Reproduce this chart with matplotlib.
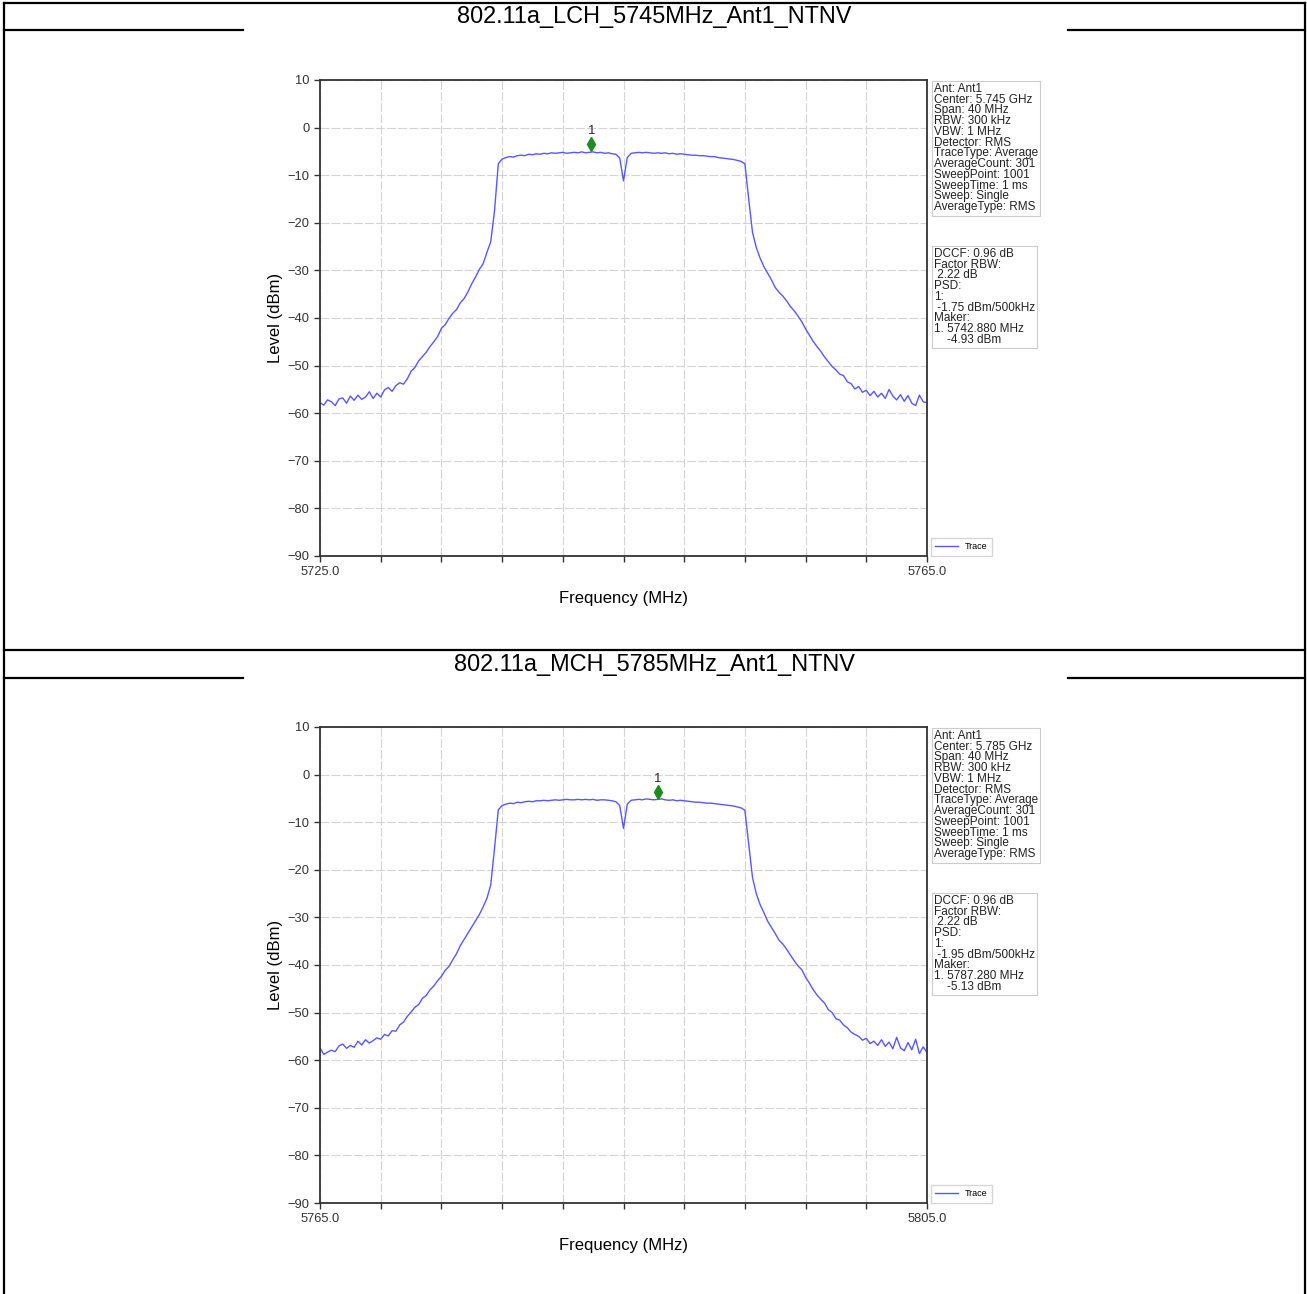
import numpy as np
import matplotlib.pyplot as plt
from matplotlib.lines import Line2D
import matplotlib.transforms as mtransforms

plt.rcParams['font.family'] = ['Liberation Sans', 'DejaVu Sans']

W, H = 1307, 1294

titles = ['802.11a_LCH_5745MHz_Ant1_NTNV', '802.11a_MCH_5785MHz_Ant1_NTNV']
starts = [5725.0, 5765.0]
span = 40.0
step = 0.25
centers = ['5.745 GHz', '5.785 GHz']
psd = ['-1.75 dBm/500kHz', '-1.95 dBm/500kHz']
marker_freq = [5742.880, 5787.280]
marker_level = [-4.93, -5.13]

# trace levels (dBm), one value every 0.25 MHz from the start frequency
lch_level = [
    -57.8, -58.3, -57.2, -57.6, -58.4, -57.0, -56.8, -57.9, -56.4, -57.3,
    -56.2, -57.1, -56.6, -55.5, -56.9, -55.8, -56.6, -55.1, -54.6, -55.4,
    -54.2, -53.6, -53.9, -52.8, -51.2, -50.4, -49.0, -48.1, -47.2, -46.0,
    -45.0, -43.9, -42.2, -41.4, -40.1, -39.0, -38.2, -36.8, -35.9, -34.5,
    -32.8, -31.4, -29.8, -28.6, -26.2, -24.0, -17.5, -7.6, -6.6, -6.3,
    -6.1, -6.2, -5.9, -5.8, -5.9, -5.6, -5.7, -5.5, -5.6, -5.4,
    -5.5, -5.3, -5.4, -5.3, -5.2, -5.4, -5.3, -5.2, -5.3, -5.1,
    -5.3, -5.2, -5.1, -5.3, -5.2, -5.4, -5.3, -5.5, -5.6, -6.4,
    -11.2, -6.3, -5.4, -5.3, -5.2, -5.3, -5.2, -5.3, -5.4, -5.3,
    -5.4, -5.3, -5.5, -5.4, -5.6, -5.5, -5.6, -5.7, -5.8, -5.8,
    -5.9, -5.9, -6.0, -6.1, -6.1, -6.3, -6.4, -6.5, -6.6, -6.7,
    -6.9, -7.1, -7.6, -15.0, -22.0, -25.2, -27.4, -29.2, -30.6, -32.0,
    -33.6, -34.6, -35.4, -36.4, -37.6, -38.5, -39.6, -40.8, -42.3, -43.6,
    -44.9, -46.0, -47.0, -48.2, -49.2, -50.2, -50.9, -51.8, -52.1, -53.4,
    -53.8, -54.9, -54.4, -55.6, -55.2, -56.3, -55.4, -56.6, -55.8, -56.9,
    -55.0, -56.4, -57.2, -56.1, -57.5, -56.3, -57.9, -58.4, -56.2, -57.6,
    -57.8,
]
mch_level = [
    -57.4, -58.8, -58.3, -57.9, -58.2, -57.0, -56.6, -57.5, -56.9, -57.3,
    -56.0, -56.8, -55.7, -56.4, -55.9, -55.3, -55.6, -54.6, -54.9, -53.8,
    -53.9, -52.6, -52.0, -50.8, -49.9, -48.9, -48.3, -47.0, -46.4, -45.2,
    -44.4, -43.3, -42.4, -41.1, -40.3, -38.9, -37.6, -35.9, -34.6, -33.3,
    -32.0, -30.7, -29.4, -27.8, -26.0, -23.2, -15.5, -7.4, -6.5, -6.2,
    -6.0, -6.1, -5.8, -5.9, -5.7, -5.6, -5.7, -5.5, -5.5, -5.4,
    -5.5, -5.4, -5.3, -5.4, -5.3, -5.2, -5.3, -5.3, -5.2, -5.3,
    -5.2, -5.3, -5.2, -5.4, -5.3, -5.3, -5.4, -5.5, -5.7, -6.5,
    -11.3, -6.2, -5.4, -5.3, -5.2, -5.3, -5.1, -5.2, -5.3, -5.2,
    -5.1, -5.3, -5.4, -5.3, -5.5, -5.4, -5.5, -5.6, -5.7, -5.8,
    -5.8, -5.9, -6.0, -6.0, -6.1, -6.2, -6.3, -6.4, -6.5, -6.6,
    -6.8, -7.0, -7.5, -14.5, -21.6, -25.0, -27.3, -29.0, -30.8, -32.1,
    -33.4, -34.8, -35.6, -36.7, -37.9, -39.1, -40.2, -41.0, -42.6, -43.8,
    -45.2, -46.3, -47.2, -48.0, -49.4, -50.0, -51.3, -51.6, -52.6, -53.2,
    -54.1, -54.6, -55.0, -55.8, -55.4, -56.5, -56.0, -56.9, -55.7, -57.1,
    -56.2, -57.6, -55.2, -57.4, -58.0, -56.3, -57.8, -55.6, -58.6, -57.2,
    -58.4,
]
levels = [lch_level, mch_level]

info_lines = ['Ant: Ant1', 'Center: {}', 'Span: 40 MHz', 'RBW: 300 kHz', 'VBW: 1 MHz',
              'Detector: RMS', 'TraceType: Average', 'AverageCount: 301',
              'SweepPoint: 1001', 'SweepTime: 1 ms', 'Sweep: Single', 'AverageType: RMS']

fig = plt.figure(figsize=(W / 100, H / 100), dpi=100)


def fx(px):
    return px / W


def fy(py):
    return 1 - py / H


def hline(y, x0, x1):
    fig.add_artist(Line2D([fx(x0), fx(x1)], [fy(y), fy(y)], color='black', lw=1.6))


def vline(x, y0, y1):
    fig.add_artist(Line2D([fx(x), fx(x)], [fy(y0), fy(y1)], color='black', lw=1.6))


# table frame
hline(3, 4, 1305)
hline(30, 4, 243)
hline(30, 1068, 1305)
hline(650, 4, 1305)
hline(678, 4, 243)
hline(678, 1068, 1305)
vline(4, 3, 1294)
vline(1305, 3, 1294)

row_top = [0, 647]
for i in range(2):
    off = row_top[i]
    fig.text(fx(654), fy(17 + off), titles[i], ha='center', va='center', fontsize=16.9)

    ax = fig.add_axes([fx(320), fy(556 + off), fx(927) - fx(320), fy(80) - fy(556)])
    freq = starts[i] + np.arange(len(levels[i])) * step
    ax.plot(freq, levels[i], color='#5858ff', lw=1.0, label='Trace')

    # marker 1
    mk = mtransforms.offset_copy(ax.transData, fig=fig, x=0, y=7, units='dots')
    ax.plot(marker_freq[i], marker_level[i], marker='d', color='#1e8c1e', ms=7,
            transform=mk, zorder=5)
    ax.annotate('1', (marker_freq[i], marker_level[i]), xytext=(0, 20),
                textcoords='offset pixels', ha='center', va='center', fontsize=9.5,
                color='#402020')

    ax.set_xlim(starts[i], starts[i] + span)
    ax.set_ylim(-90, 10)
    xt = np.arange(starts[i], starts[i] + span + 0.1, 4)
    ax.set_xticks(xt)
    ax.set_xticklabels(['%.1f' % v if v in (xt[0], xt[-1]) else '' for v in xt])
    ax.set_yticks(np.arange(-90, 11, 10))
    ax.tick_params(labelsize=9.3, colors='#333333', length=4, width=1)
    ax.grid(True, color='#d4d4d4', lw=0.8, linestyle=(0, (8, 2)))
    for s in ax.spines.values():
        s.set_color('#333333')
        s.set_linewidth(1.3)
    ax.set_xlabel('Frequency (MHz)', fontsize=12, labelpad=9)
    ax.set_ylabel('Level (dBm)', fontsize=12, labelpad=3)

    info = '\n'.join(info_lines).format(centers[i])
    fig.text(fx(934), fy(83 + off), info, ha='left', va='top', fontsize=8.5,
             linespacing=0.86, color='#222222',
             bbox=dict(boxstyle='square,pad=0.2', fc='white', ec='#cccccc', lw=0.8))

    mk_txt = ('DCCF: 0.96 dB\nFactor RBW:\n 2.22 dB\nPSD:\n1:\n {}\nMaker:\n'
              '1. {:.3f} MHz\n    {:.2f} dBm').format(psd[i], marker_freq[i], marker_level[i])
    fig.text(fx(934), fy(248 + off), mk_txt, ha='left', va='top', fontsize=8.5,
             linespacing=0.86, color='#222222',
             bbox=dict(boxstyle='square,pad=0.2', fc='white', ec='#cccccc', lw=0.8))

    ax.legend(loc='lower left', bbox_to_anchor=(1.006, 0.0), borderaxespad=0,
              fontsize=6.5, handlelength=2.5, borderpad=0.5, frameon=True,
              fancybox=False, edgecolor='#cccccc')

fig.savefig('out.png', dpi=100)
